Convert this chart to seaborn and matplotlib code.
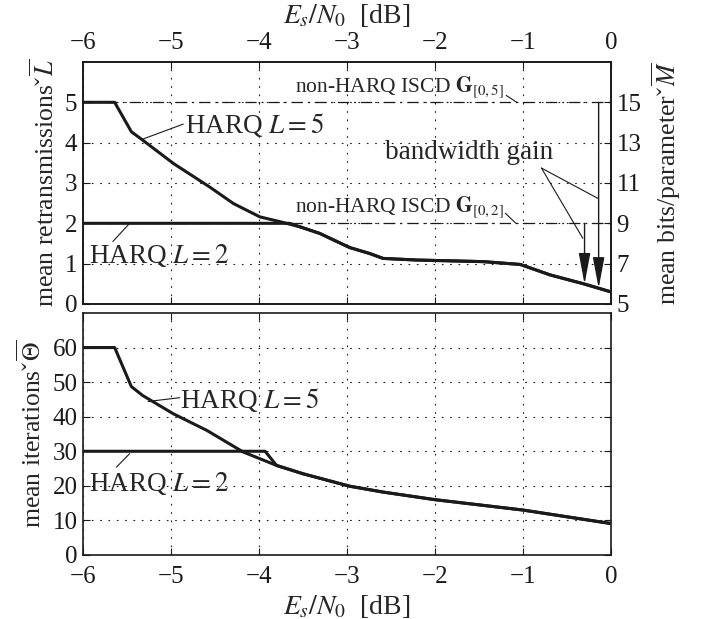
import numpy as np
import matplotlib
matplotlib.use('Agg')
import matplotlib.pyplot as plt
import seaborn as sns

# Es/N0 [dB] grid and curves
snr_ret_l5 = [-6.0, -5.64, -5.45, -5.32, -4.97, -4.56, -4.29, -3.99, -3.76, -3.53,
              -3.31, -2.97, -2.74, -2.59, -2.21, -1.45, -1.03, -0.69, -0.31, 0.0]
ret_l5 = [5.0, 5.0, 4.27, 4.06, 3.48, 2.90, 2.49, 2.16, 2.04, 1.91,
          1.75, 1.40, 1.25, 1.13, 1.09, 1.05, 0.98, 0.72, 0.50, 0.30]
snr_ret_l2 = [-6.0, -3.65, -3.53, -3.31, -2.97, -2.74, -2.59, -2.21, -1.45, -1.03,
              -0.69, -0.31, 0.0]
ret_l2 = [2.0, 2.0, 1.91, 1.75, 1.40, 1.25, 1.13, 1.09, 1.05, 0.98,
          0.72, 0.50, 0.30]

snr_it_l5 = [-6.0, -5.64, -5.45, -5.32, -4.97, -4.59, -4.18, -3.80, -3.50,
             -2.97, -2.59, -2.0, -1.0, 0.0]
it_l5 = [60.0, 60.0, 48.7, 46.1, 40.8, 36.0, 29.8, 25.9, 23.5,
         19.9, 18.2, 16.0, 13.0, 9.1]
snr_it_l2 = [-6.0, -3.93, -3.80, -3.50, -2.97, -2.59, -2.0, -1.0, 0.0]
it_l2 = [30.0, 30.0, 25.9, 23.5, 19.9, 18.2, 16.0, 13.0, 9.1]

# non-HARQ reference levels (mean retransmissions) and their labels
nonharq_levels = [5, 2]
nonharq_labels = [r'non-HARQ ISCD $\mathbf{G}_{[0,5]}$',
                  r'non-HARQ ISCD $\mathbf{G}_{[0,2]}$']
# bandwidth gain arrows: Es/N0 position and starting level
gain_snr = [-0.30, -0.14]
gain_level = [2, 5]

x_ticks = [-6, -5, -4, -3, -2, -1, 0]
ret_ticks = [0, 1, 2, 3, 4, 5]
bits_ticks = [5, 7, 9, 11, 13, 15]
it_ticks = [0, 10, 20, 30, 40, 50, 60]

sns.set_theme(style='white')
plt.rcParams['font.family'] = ['Liberation Serif', 'DejaVu Serif']
plt.rcParams['mathtext.fontset'] = 'stix'

TICK_FS = 18
LABEL_FS = 18.5
XLABEL_FS = 20
TEXT_FS = 19.5
NOTE_FS = 15.5
GRID = dict(color='k', linestyle=(0, (1.5, 6)), linewidth=0.8)
LEAD = dict(arrowstyle='-', color='k', lw=0.8, shrinkA=0, shrinkB=0)
XLABEL = r'$E_s/N_0$  [dB]'


def acc(sym):
    # bar over check over symbol
    return r' $\,\overline{\check{%s}}$' % sym


fig = plt.figure(figsize=(7.02, 6.19), dpi=100)
ax_top = fig.add_axes([0.1182, 0.5089, 0.7521, 0.3910])
ax_bot = fig.add_axes([0.1182, 0.1034, 0.7521, 0.3910])


def style_axes(ax, xpad):
    ax.set_xlim(-6, 0)
    ax.set_xticks(x_ticks)
    ax.grid(True, **GRID)
    for sp in ax.spines.values():
        sp.set_color('k')
        sp.set_linewidth(1.2)
    ax.tick_params(direction='in', length=5, width=0.8, colors='k',
                   labelsize=TICK_FS, top=True, bottom=True, left=True, pad=4)
    ax.tick_params(axis='x', pad=xpad)


# ---- top panel: mean retransmissions ----
style_axes(ax_top, 6)
sns.lineplot(x=snr_ret_l5, y=ret_l5, ax=ax_top, color='k', lw=2.2,
             estimator=None, sort=False)
sns.lineplot(x=snr_ret_l2, y=ret_l2, ax=ax_top, color='k', lw=2.2,
             estimator=None, sort=False)
for lvl in nonharq_levels:
    ax_top.axhline(lvl, color='k', lw=0.9, linestyle=(0, (9, 4, 1.5, 4)))
ax_top.set_ylim(0, 6)
ax_top.set_yticks(ret_ticks)
ax_top.tick_params(axis='x', labeltop=True, labelbottom=False)
ax_top.tick_params(axis='y', right=False)
ax_top.xaxis.set_label_position('top')
ax_top.set_xlabel(XLABEL, fontsize=XLABEL_FS)
ax_top.xaxis.set_label_coords(0.5, 1.16)
ax_top.set_ylabel('mean retransmissions' + acc('L'), fontsize=LABEL_FS)
ax_top.yaxis.set_label_coords(-0.045, 0.5)

ax_r = ax_top.twinx()
ax_r.set_ylim(5, 17)
ax_r.set_yticks(bits_ticks)
ax_r.grid(False)
ax_r.tick_params(direction='in', length=5, width=0.8, colors='k',
                 labelsize=TICK_FS, pad=4)
for sp in ax_r.spines.values():
    sp.set_linewidth(1.2)
    sp.set_color('k')
ax_r.set_ylabel('mean bits/parameter' + acc('M'), fontsize=LABEL_FS)
ax_r.yaxis.set_label_coords(1.074, 0.5)

# annotations, top panel
ax_top.text(-4.84, 4.43, r'HARQ $L=5$', fontsize=TEXT_FS, va='center', ha='left')
ax_top.annotate('', xy=(-5.33, 4.08), xytext=(-4.86, 4.46), arrowprops=LEAD)
ax_top.text(-5.93, 1.21, r'HARQ $L=2$', fontsize=TEXT_FS, va='center', ha='left')
ax_top.annotate('', xy=(-5.47, 2.0), xytext=(-5.66, 1.55), arrowprops=LEAD)

txt_y = [5.38, 2.41]
lead_from = [(-1.19, 5.17), (-1.20, 2.25)]
for lvl, lab, ty, lf in zip(nonharq_levels, nonharq_labels, txt_y, lead_from):
    ax_top.text(-3.59, ty, lab, fontsize=NOTE_FS, va='center', ha='left')
    ax_top.annotate('', xy=(lf[0] + 0.12, lvl), xytext=lf, arrowprops=LEAD)

for xs, lvl in zip(gain_snr, gain_level):
    tip = np.interp(xs, snr_ret_l5, ret_l5)
    ax_top.annotate('', xy=(xs, tip), xytext=(xs, lvl),
                    arrowprops=dict(arrowstyle='-|>,head_length=1.6,head_width=0.3',
                                    color='k', lw=1.0, shrinkA=0, shrinkB=0))
ax_top.text(-1.61, 3.76, 'bandwidth gain', fontsize=TEXT_FS, va='center', ha='center')
ax_top.annotate('', xy=(-0.32, 1.63), xytext=(-0.79, 3.37), arrowprops=LEAD)
ax_top.annotate('', xy=(-0.15, 2.62), xytext=(-0.79, 3.37), arrowprops=LEAD)

# ---- bottom panel: mean iterations ----
style_axes(ax_bot, 8)
sns.lineplot(x=snr_it_l5, y=it_l5, ax=ax_bot, color='k', lw=2.2,
             estimator=None, sort=False)
sns.lineplot(x=snr_it_l2, y=it_l2, ax=ax_bot, color='k', lw=2.2,
             estimator=None, sort=False)
ax_bot.set_ylim(0, 70)
ax_bot.set_yticks(it_ticks)
ax_bot.tick_params(axis='y', right=True)
ax_bot.set_xlabel(XLABEL, fontsize=XLABEL_FS)
ax_bot.xaxis.set_label_coords(0.5, -0.155)
ax_bot.set_ylabel('mean iterations' + acc(r'\Theta'), fontsize=LABEL_FS)
ax_bot.yaxis.set_label_coords(-0.07, 0.5)

ax_bot.text(-4.90, 44.7, r'HARQ $L=5$', fontsize=TEXT_FS, va='center', ha='left')
ax_bot.annotate('', xy=(-5.26, 44.4), xytext=(-4.90, 45.5), arrowprops=LEAD)
ax_bot.text(-5.93, 20.8, r'HARQ $L=2$', fontsize=TEXT_FS, va='center', ha='left')
ax_bot.annotate('', xy=(-5.47, 29.3), xytext=(-5.62, 25.4), arrowprops=LEAD)

fig.savefig('out.png', dpi=100)
plt.close(fig)
